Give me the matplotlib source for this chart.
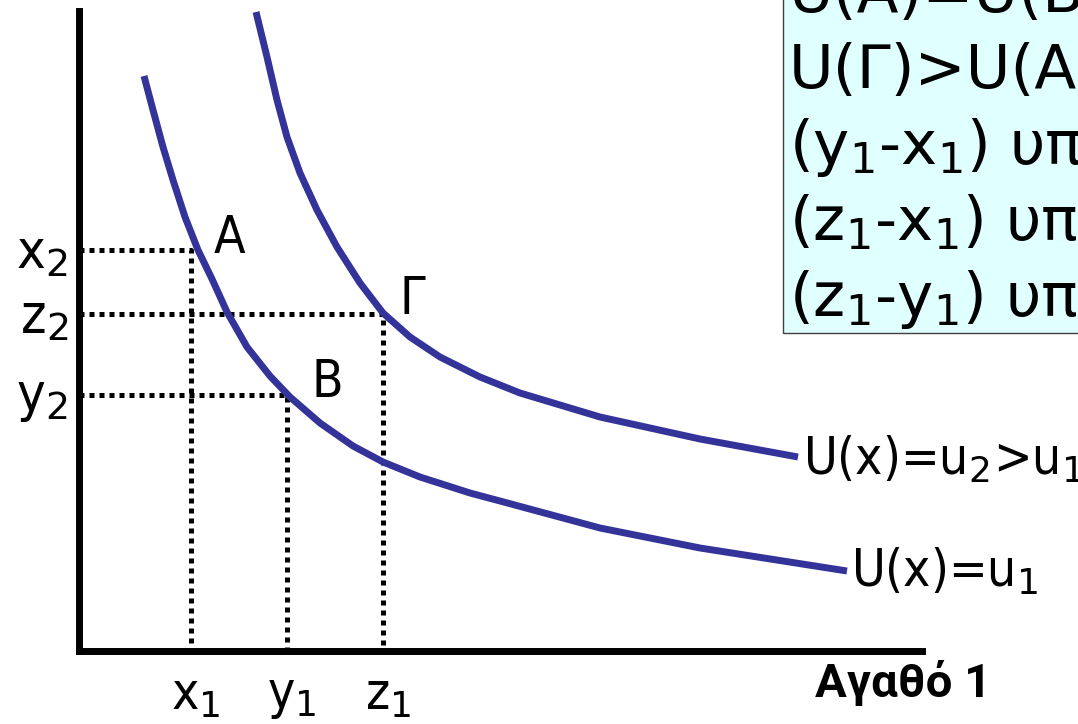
import matplotlib
matplotlib.use('agg')
from matplotlib import pyplot as plt
from matplotlib.patches import Rectangle

# indifference curves (origin at the axes corner)
u1_x = [65, 74, 84, 94, 106, 119, 133, 148, 168, 191, 211, 241, 274, 304, 341, 391, 421, 521, 621, 768]
u1_y = [575, 541, 504, 471, 434, 401, 372, 339, 304, 275, 254, 228, 205, 189, 174, 158, 150, 123, 103, 80]
u2_x = [177, 188, 198, 208, 221, 238, 258, 281, 304, 331, 361, 401, 441, 521, 621, 719]
u2_y = [639, 594, 551, 514, 478, 441, 404, 368, 338, 314, 294, 274, 258, 234, 212, 194]

# bundles A, B, Γ : quantity of good 1 and good 2
good1 = {'x': 112, 'y': 208, 'z': 304}
good2 = {'x': 401, 'y': 256, 'z': 337}

box_lines = ['U(A)=U(B)',
             'U(Γ)>U(A)',
             '(y$_1$-x$_1$) υπάρχει',
             '(z$_1$-x$_1$) υπάρχει',
             '(z$_1$-y$_1$) υπάρχει']

plt.rcParams['font.family'] = 'DejaVu Sans'
plt.rcParams['mathtext.fontset'] = 'dejavusans'

fig = plt.figure(figsize=(10.78, 7.24), dpi=100)
ax = fig.add_axes([79 / 1078, 73 / 724, 999 / 1078, 651 / 724])
ax.set_xlim(0, 999)
ax.set_ylim(0, 651)
ax.set_xticks([])
ax.set_yticks([])
ax.patch.set_visible(False)
for s in ['top', 'right']:
    ax.spines[s].set_visible(False)
for s in ['left', 'bottom']:
    ax.spines[s].set_linewidth(5)
    ax.spines[s].set_color('black')
ax.spines['left'].set_bounds(0, 640)
ax.spines['bottom'].set_bounds(0, 843)

blue = '#333399'
ax.plot(u1_x, u1_y, color=blue, lw=5, solid_joinstyle='round', solid_capstyle='butt', clip_on=False)
ax.plot(u2_x, u2_y, color=blue, lw=5, solid_joinstyle='round', solid_capstyle='butt', clip_on=False)

for k in ['x', 'y', 'z']:
    ax.plot([0, good1[k], good1[k]], [good2[k], good2[k], 0], color='black',
            lw=3.6, dashes=(1, 1), dash_capstyle='butt', zorder=1)

lab = dict(fontsize=37, fontstretch='condensed')
for k in ['x', 'y', 'z']:
    ax.text(good1[k] + 5, -45, k + '$_1$', ha='center', va='center', **lab)
    ax.text(-11, good2[k] - 3, k + '$_2$', ha='right', va='center', fontsize=39,
            fontstretch='condensed')

ax.text(135, 412, 'A', ha='left', va='center', **lab)
ax.text(320, 351, 'Γ', ha='left', va='center', **lab)
ax.text(233, 268, 'B', ha='left', va='center', **lab)

ax.text(724, 191, 'U(x)=u$_2$>u$_1$', ha='left', va='center', **lab)
ax.text(772, 79, 'U(x)=u$_1$', ha='left', va='center', **lab)

ax.text(736, -32, 'Αγαθό 1', fontsize=34, fontweight='bold',
        family='Roboto', ha='left', va='center')

ax.add_patch(Rectangle((704, 318), 500, 500, facecolor='#e0ffff',
                       edgecolor='#404040', lw=1, clip_on=False, zorder=0))
for i, line in enumerate(box_lines):
    ax.text(710, 639 - i * 76, line, fontsize=44, ha='left', va='baseline')

plt.savefig('out.png', dpi=100)
